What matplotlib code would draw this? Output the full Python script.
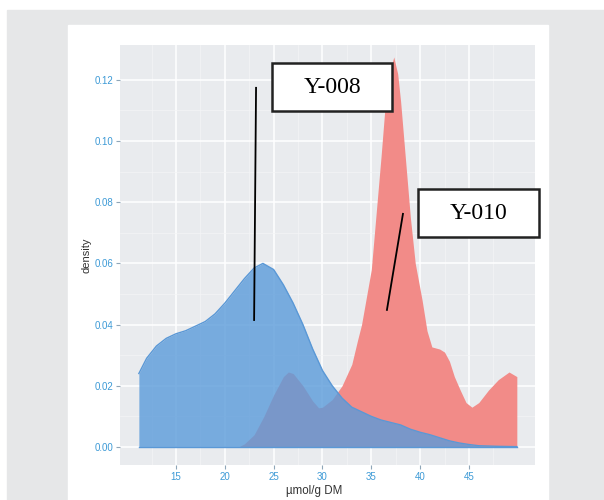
import numpy as np
import matplotlib.pyplot as plt
from matplotlib.patches import Rectangle

plt.rcParams['font.family'] = ['Liberation Sans', 'DejaVu Sans']

# density curves
y008_x = [11.2, 12.0, 13.0, 14.0, 15.0, 16.0, 17.0, 18.0, 19.0, 20.0, 21.0, 22.0,
          23.0, 23.9, 25.0, 26.0, 27.0, 28.0, 29.0, 30.0, 31.0, 32.0, 33.0, 34.0,
          35.0, 36.0, 37.0, 38.0, 39.0, 40.0, 41.0, 42.0, 43.0, 44.0, 45.0, 46.0,
          47.0, 48.0, 49.9]
y008_d = [0.024, 0.029, 0.033, 0.0355, 0.037, 0.038, 0.0395, 0.041, 0.0435, 0.047,
          0.051, 0.055, 0.0585, 0.060, 0.058, 0.053, 0.047, 0.040, 0.032, 0.025,
          0.020, 0.016, 0.013, 0.0115, 0.010, 0.0088, 0.008, 0.0072, 0.0058, 0.0048,
          0.004, 0.003, 0.002, 0.0013, 0.0008, 0.0004, 0.0003, 0.0002, 0.0001]

y010_x = [21.4, 22.0, 23.0, 24.0, 25.0, 26.0, 26.5, 27.0, 28.0, 29.0, 29.6, 30.0,
          31.0, 32.0, 33.0, 33.6, 34.0, 35.0, 36.0, 36.5, 37.0, 37.3, 37.7, 38.0,
          38.5, 39.0, 39.5, 40.2, 40.7, 41.2, 42.0, 42.5, 43.0, 43.5, 44.1, 44.7,
          45.3, 46.0, 47.0, 48.0, 49.1, 49.9]
y010_d = [0.0, 0.001, 0.004, 0.010, 0.017, 0.023, 0.0245, 0.024, 0.020, 0.015,
          0.0128, 0.013, 0.0155, 0.020, 0.027, 0.035, 0.040, 0.058, 0.095, 0.115,
          0.124, 0.1275, 0.122, 0.113, 0.094, 0.075, 0.060, 0.048, 0.038, 0.0327,
          0.032, 0.031, 0.028, 0.023, 0.0186, 0.0145, 0.013, 0.0145, 0.0186, 0.022,
          0.0245, 0.023]

x_ticks = [15, 20, 25, 30, 35, 40, 45]
y_ticks = [0.00, 0.02, 0.04, 0.06, 0.08, 0.10, 0.12]

W, H = 604, 500
fig = plt.figure(figsize=(W / 100, H / 100), dpi=100)
fig.patch.set_facecolor('white')


def px_rect(x0, y0, x1, y1, **kw):
    # rectangle in pixel coords (origin top-left)
    return Rectangle((x0 / W, 1 - y1 / H), (x1 - x0) / W, (y1 - y0) / H,
                     transform=fig.transFigure, **kw)


fig.patches.append(px_rect(7, 10, W, H, color='#e6e7e8', zorder=-10))
fig.patches.append(px_rect(68, 25, 548, H, color='white', zorder=-10))

ax = fig.add_axes([120 / W, 1 - 465 / H, (535 - 120) / W, (465 - 45) / H])
ax.set_facecolor('#e9ebee')
for s in ax.spines.values():
    s.set_visible(False)

ax.set_xlim(9.27, 51.76)
ax.set_ylim(-0.0059, 0.1314)
ax.set_xticks(x_ticks)
ax.set_yticks(y_ticks)
ax.set_xticks(np.arange(12.5, 50, 5), minor=True)
ax.set_yticks(np.arange(0.01, 0.13, 0.02), minor=True)
ax.set_yticklabels(['%.2f' % v for v in y_ticks])
ax.grid(which='major', color='white', lw=1.1, zorder=0)
ax.grid(which='minor', color='#f4f5f6', lw=0.5, zorder=0)
ax.set_axisbelow(True)
ax.tick_params(which='major', colors='#8fa6b8', length=3, width=0.8,
               labelcolor='#3d9ad6', labelsize=7, pad=2)
ax.tick_params(which='minor', length=0)

ax.fill_between(y010_x, 0, y010_d, color='#f28b88', lw=0, zorder=2)
ax.fill_between(y008_x, 0, y008_d, color='#5b9bda', alpha=0.8, lw=0, zorder=3)
ax.plot(y008_x, y008_d, color='#5a98d6', lw=1.0, zorder=4)
ax.plot([y008_x[0], y008_x[-1]], [0, 0], color='#5a98d6', lw=1.0, zorder=4)

# leader lines, boxes, labels
ax.plot([23.2, 23.0], [0.1174, 0.0415], color='black', lw=1.3, zorder=5)
ax.plot([38.24, 36.6], [0.0762, 0.0448], color='black', lw=1.3, zorder=5)
for r in [(272, 63, 392, 111), (418, 189, 539, 237)]:
    p = px_rect(*r, fc='white', ec='#222222', lw=1.8, zorder=6)
    p.set_clip_on(False)
    ax.add_patch(p)
ax.text(332 / W, 1 - 88 / H, 'Y-008', transform=fig.transFigure, fontsize=17,
        family='Liberation Serif', ha='center', va='center', zorder=7)
ax.text(478.5 / W, 1 - 214 / H, 'Y-010', transform=fig.transFigure, fontsize=17,
        family='Liberation Serif', ha='center', va='center', zorder=7)

fig.text(86 / W, 1 - 255 / H, 'density', rotation=90, ha='center', va='center',
         fontsize=8, color='#333333')
fig.text(314 / W, 1 - 491 / H, 'µmol/g DM', ha='center', va='center',
         fontsize=8.3, color='#333333')

fig.savefig('out.png', dpi=100)
